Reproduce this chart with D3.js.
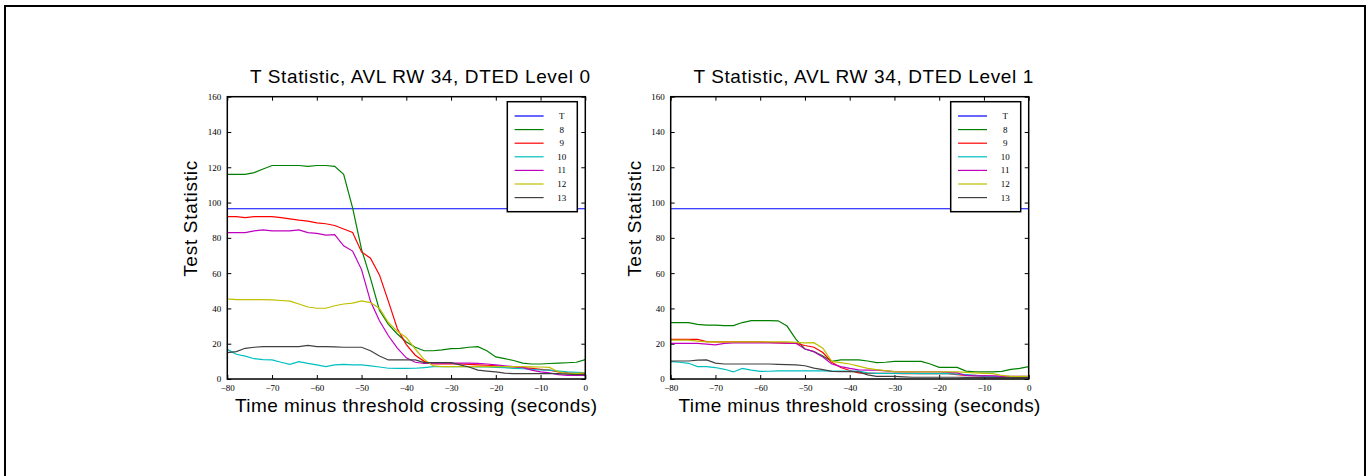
<!DOCTYPE html>
<html>
<head>
<meta charset="utf-8">
<script src="https://cdn.jsdelivr.net/npm/d3@7"></script>
<style>
  body { margin: 0; background: #fff; }
  svg { display: block; }
  .tick text { font-family: "Liberation Serif", "Times New Roman", serif; font-size: 9px; fill: #000; }
  .ttl { font-family: "Liberation Sans", Arial, sans-serif; font-size: 19px; fill: #000; }
</style>
</head>
<body>
<svg width="1367" height="476"></svg>
<script>
;(function (d3) {
  var svg = d3.select('svg')

  // sample times (seconds before threshold crossing)
  var times = [-80, -78, -76, -74, -72, -70, -68, -66, -64, -62, -60, -58, -56, -54, -52, -50,
    -48, -46, -44, -42, -40, -38, -36, -34, -32, -30, -28, -26, -24, -22, -20, -18, -16, -14,
    -12, -10, -8, -6, -4, -2, 0]

  var seriesNames = ['8', '9', '10', '11', '12', '13']
  var seriesColors = ['#008000', '#ff0000', '#00bfbf', '#bf00bf', '#bfbf00', '#404040']
  var thresholdT = 96.5
  var xTicks = [-80, -70, -60, -50, -40, -30, -20, -10, 0]
  var yTicks = [0, 20, 40, 60, 80, 100, 120, 140, 160]

  // DTED level 0
  var lvl0s8 = [116, 116, 116, 117, 119, 121, 121, 121, 121, 120.5, 121, 121, 120.5, 116, 97, 73.5,
    57, 39, 31, 25.5, 21, 18, 16, 16, 16.5, 17.2, 17.4, 18, 18.3, 16, 12.5, 11.5, 10.5, 9,
    8.5, 8.5, 8.8, 9, 9.2, 9.5, 11]
  var lvl0s9 = [92, 92, 91.5, 92, 92, 92, 91.5, 90.8, 90, 89.5, 88.5, 88, 87, 85, 83, 72,
    68.5, 59, 44, 28.5, 19.5, 13.5, 10, 8.5, 8.5, 8.5, 8.5, 8.3, 8, 7.8, 7.5, 7, 6.8, 6.5,
    6, 5.5, 5, 4, 3.5, 3, 3]
  var lvl0s10 = [16.8, 14, 13, 11.5, 11, 10.8, 9.5, 8.3, 9.8, 8.9, 8, 7, 8, 8.3, 8, 8,
    7.4, 6.8, 6.1, 6, 6, 6.1, 6.5, 7, 7, 7, 7, 7, 6.8, 6.8, 6.6, 6.5, 6, 5.8,
    5.5, 5.1, 5, 4.5, 4, 3.8, 3.6]
  var lvl0s11 = [83, 83, 83, 84, 84.5, 84, 84, 84, 84.5, 83, 82.5, 81.5, 81.8, 75.5, 72.5, 62,
    44, 33, 24.5, 17.5, 12, 9.5, 8.8, 9, 9, 9, 9, 9, 8.8, 8.5, 8, 7.5, 7, 6.5,
    5, 4, 3.5, 2.5, 2, 2, 2]
  var lvl0s12 = [45.4, 45, 45, 45, 45, 44.8, 44.5, 44.1, 42.5, 40.8, 40.1, 40.1, 41.5, 42.5, 43, 44.3,
    43.3, 40, 32, 27, 23.5, 17, 11, 7.4, 7, 7, 7, 7, 7, 7, 7, 7, 7, 7,
    6.9, 6.8, 6.6, 4, 3.2, 3.2, 3.5]
  var lvl0s13 = [15, 15.5, 17.4, 18, 18.3, 18.3, 18.3, 18.3, 18.3, 19.1, 18.3, 18.3, 18.2, 18, 18, 18,
    16, 13, 10.8, 10.8, 10.8, 10.8, 9.3, 9.3, 9.3, 9.3, 8, 6.8, 5, 4.5, 4, 3.3, 3, 3,
    3, 3, 3, 3, 2.8, 2.5, 2.5]

  // DTED level 1
  var lvl1s8 = [32, 32, 32, 31, 30.5, 30.5, 30.3, 30.3, 32, 33.1, 33.1, 33.1, 33, 30, 22.5, 17,
    15.5, 13, 10, 10.8, 10.8, 10.8, 10.2, 9.3, 9.5, 10, 10, 10, 10, 8.5, 6.6, 6.6, 6.6, 4.5,
    4, 4, 4, 4.3, 5.5, 6, 7]
  var lvl1s9 = [22.5, 22.5, 22.5, 22.5, 21.2, 21, 21, 21, 21, 21, 21, 20.8, 20.5, 20.3, 20.2, 19,
    18, 15, 9.5, 6.5, 4.8, 3.5, 3.2, 3.2, 3.2, 3.2, 3, 3, 3, 3, 3, 3, 2.5, 2,
    2, 1.8, 1.5, 1.5, 1.2, 1.2, 1.2]
  var lvl1s10 = [9.8, 9.5, 8.9, 7, 7, 6.5, 5.5, 4, 6, 5, 4.3, 4.4, 4.6, 4.6, 4.6, 4.6,
    4.6, 4.6, 4.5, 4.5, 4.5, 4.5, 3.5, 3.2, 3.2, 3.2, 3.2, 3.2, 3, 3, 3, 3, 2.8, 2.5,
    2, 1.5, 1.5, 1.3, 1.2, 1.2, 1.2]
  var lvl1s11 = [20.2, 20.2, 20.2, 20.2, 19.8, 19.3, 20.2, 20.5, 20.5, 20.5, 20.5, 20.5, 20.5, 20.3, 20.2, 17,
    15.5, 12.5, 8.5, 7, 6, 5.2, 5, 5, 4.6, 4.2, 4, 4, 4, 4, 4, 3.8, 3.5, 2,
    1.8, 1.8, 1.8, 1.5, 1.5, 1.5, 1.5]
  var lvl1s12 = [22, 22, 22, 21.5, 21, 21, 21, 21, 21, 21, 21, 21, 21, 21, 20.8, 20.5,
    20.6, 17.5, 10, 9.3, 8.5, 7.3, 6, 5.3, 4.7, 4.2, 4, 4, 4, 4, 4, 4, 4, 3.8,
    3.5, 3.2, 3, 2, 1.5, 1.5, 1.5]
  var lvl1s13 = [10.2, 10.2, 10.2, 10.7, 10.8, 9, 8.5, 8.5, 8.5, 8.5, 8.5, 8.5, 8.3, 8.2, 8, 7.5,
    6.2, 5.3, 4.3, 4.2, 4.2, 4, 2.3, 1.5, 1.5, 1.5, 1.2, 1, 1, 1, 1, 1, 1, 0.9,
    0.9, 0.8, 0.8, 0.8, 0.8, 0.8, 0.8]

  var panels = [
    {title: 'T Statistic, AVL RW 34, DTED Level 0', left: 227.3, series: [lvl0s8, lvl0s9, lvl0s10, lvl0s11, lvl0s12, lvl0s13]},
    {title: 'T Statistic, AVL RW 34, DTED Level 1', left: 670.7, series: [lvl1s8, lvl1s9, lvl1s10, lvl1s11, lvl1s12, lvl1s13]}
  ]

  var pw = 358
  var top = 96.7
  var ph = 282.3

  // outer frame (bottom edge runs off the page)
  svg.append('rect')
    .attr('x', 5).attr('y', 6)
    .attr('width', 1360).attr('height', 520)
    .style('fill', 'none').style('stroke', '#000').style('stroke-width', 2)

  panels.forEach(function (p) {
    var g = svg.append('g').attr('transform', 'translate(' + p.left + ',' + top + ')')

    var x = d3.scaleLinear().domain([-80, 0]).range([0, pw])
    var y = d3.scaleLinear().domain([0, 160]).range([ph, 0])

    g.append('g').attr('transform', 'translate(0,' + ph + ')')
      .call(d3.axisBottom(x).tickValues(xTicks).tickSizeInner(-4).tickSizeOuter(0).tickPadding(6))
    g.append('g')
      .call(d3.axisLeft(y).tickValues(yTicks).tickSizeInner(-4).tickSizeOuter(0).tickPadding(6))
    g.append('g')
      .call(d3.axisTop(x).tickValues(xTicks).tickSizeInner(-4).tickSizeOuter(0).tickFormat(''))
    g.append('g').attr('transform', 'translate(' + pw + ',0)')
      .call(d3.axisRight(y).tickValues(yTicks).tickSizeInner(-4).tickSizeOuter(0).tickFormat(''))
    g.selectAll('.domain').remove()
    g.selectAll('.tick line').style('stroke', '#000')

    var line = d3.line()
      .x(function (d, i) { return x(times[i]) })
      .y(function (d) { return y(d) })

    g.append('line')
      .attr('x1', x(-80)).attr('x2', x(0))
      .attr('y1', y(thresholdT)).attr('y2', y(thresholdT))
      .style('stroke', '#0000ff').style('stroke-width', 1.2)

    g.selectAll('path.ser')
      .data(p.series)
      .enter()
      .append('path')
      .attr('class', 'ser')
      .attr('d', line)
      .style('fill', 'none')
      .style('stroke', function (d, i) { return seriesColors[i] })
      .style('stroke-width', 1.2)

    g.append('rect')
      .attr('width', pw).attr('height', ph)
      .style('fill', 'none').style('stroke', '#000').style('stroke-width', 1.5)

    // legend
    var lg = g.append('g').attr('transform', 'translate(' + (pw - 78) + ',5)')
    lg.append('rect').attr('width', 70).attr('height', 110)
      .style('fill', '#fff').style('stroke', '#000').style('stroke-width', 1.5)
    var names = ['T'].concat(seriesNames)
    var cols = ['#0000ff'].concat(seriesColors)
    names.forEach(function (n, i) {
      var yy = 14.3 + i * 13.6
      lg.append('line').attr('x1', 7.3).attr('x2', 36.3).attr('y1', yy).attr('y2', yy)
        .style('stroke', cols[i]).style('stroke-width', 1.2)
      lg.append('text').attr('x', 54.5).attr('y', yy + 3)
        .attr('text-anchor', 'middle')
        .style('font-family', '"Liberation Serif", "Times New Roman", serif')
        .style('font-size', '9px')
        .text(n)
    })

    g.append('text').attr('class', 'ttl')
      .attr('x', pw / 2 + 13.7).attr('y', -13.5)
      .attr('text-anchor', 'middle')
      .attr('textLength', 340).attr('lengthAdjust', 'spacing')
      .text(p.title)

    g.append('text').attr('class', 'ttl')
      .attr('x', pw / 2 + 9.7).attr('y', ph + 33.5)
      .attr('text-anchor', 'middle')
      .attr('textLength', 362).attr('lengthAdjust', 'spacing')
      .text('Time minus threshold crossing (seconds)')

    g.append('text').attr('class', 'ttl')
      .attr('transform', 'translate(-30,' + (ph / 2 - 19) + ') rotate(-90)')
      .attr('text-anchor', 'middle')
      .attr('textLength', 116).attr('lengthAdjust', 'spacing')
      .text('Test Statistic')
  })
})(window.d3)
</script>
</body>
</html>
